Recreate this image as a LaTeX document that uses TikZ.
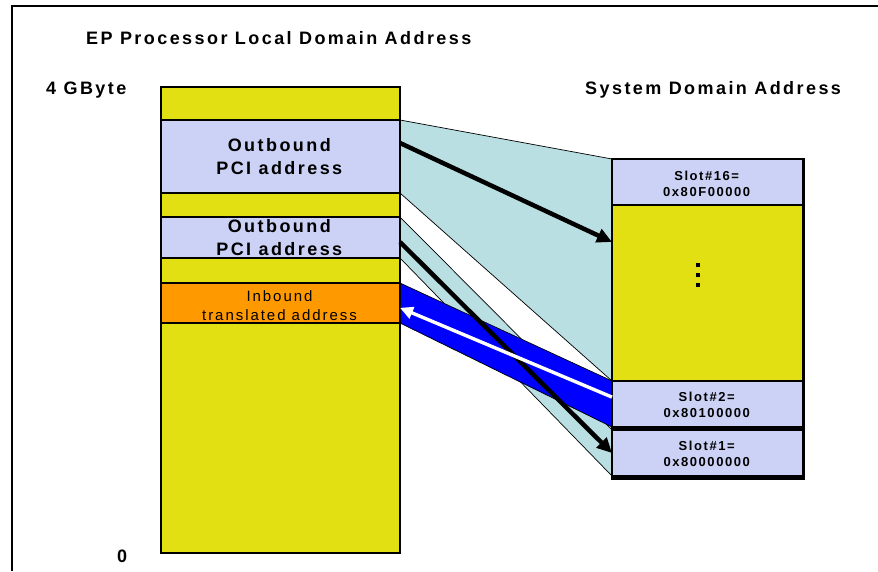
\documentclass[tikz,border=0pt]{standalone}
\usepackage{fontspec}
\setmainfont{Liberation Sans}
\newfontfamily\lspbig[LetterSpace=13.5]{Liberation Sans}
\newfontfamily\lspin[LetterSpace=13]{Liberation Sans}
\newfontfamily\lspsm[LetterSpace=12]{Liberation Sans}
\usetikzlibrary{arrows.meta,calc}
\definecolor{yel}{RGB}{226,224,18}
\definecolor{lav}{RGB}{204,210,246}
\definecolor{org}{RGB}{255,153,0}
\definecolor{cya}{RGB}{185,223,226}
\definecolor{blu}{RGB}{0,0,255}
\begin{document}
\begin{tikzpicture}[x=1pt,y=-1pt,
  lsect/.style={draw=black, line width=2.6pt, inner sep=0pt, outer sep=0pt, anchor=north west, minimum width=239pt},
  rsect/.style={draw=black, line width=2.6pt, inner sep=0pt, outer sep=0pt, anchor=north west, minimum width=191pt},
  bigtxt/.style={font=\lspbig\bfseries\fontsize{18}{23}\selectfont, align=center, inner sep=0pt},
  intxt/.style={font=\lspin\fontsize{15}{19}\selectfont, align=center, inner sep=0pt},
  slottxt/.style={font=\lspsm\bfseries\fontsize{13}{16}\selectfont, align=center, inner sep=0pt},
  edge/.style={draw=black, line width=0.7pt},
  blkarrow/.style={draw=black, line width=4.5pt, -{Triangle[length=15pt,width=14pt]}},
  wharrow/.style={draw=white, line width=3.4pt, -{Triangle[length=13pt,width=12pt]}}
]
\useasboundingbox (0,0) rectangle (878,571);
\fill[white] (0,0) rectangle (878,571);
\draw[line width=2.3pt] (12,571) -- (12,6) -- (878,6);

% left column
\node[lsect, fill=yel, minimum height=33pt] (t1) at (161,87) {};
\node[lsect, fill=lav, minimum height=73pt] (o1) at (161,120) {};
\node[lsect, fill=yel, minimum height=24pt] (y2) at (161,193) {};
\node[lsect, fill=lav, minimum height=41pt] (o2) at (161,217) {};
\node[lsect, fill=yel, minimum height=25pt] (y3) at (161,258) {};
\node[lsect, fill=org, minimum height=40pt] (in) at (161,283) {};
\node[lsect, fill=yel, minimum height=230pt] (y4) at (161,323) {};

% right column
\fill[black] (610.5,157.5) rectangle (804.5,480);
\node[rsect, fill=lav, minimum height=46pt] (s16) at (612,159) {};
\node[rsect, fill=yel, minimum height=176pt] (ry) at (612,205) {};
\node[rsect, fill=lav, minimum height=46pt] (s2) at (612,381) {};
\node[rsect, fill=lav, minimum height=46pt] (s1) at (612,430) {};

% funnels
\fill[cya] (o1.north east) -- (s16.north west) -- (ry.south west) -- (o1.south east) -- cycle;
\draw[edge] (o1.north east) -- (s16.north west);
\draw[edge] (o1.south east) -- (ry.south west);
\fill[cya] (o2.north east) -- (s1.north west) -- (s1.south west) -- (o2.south east) -- cycle;
\draw[edge] (o2.north east) -- (s1.north west);
\draw[edge] (o2.south east) -- (s1.south west);
\fill[blu] (in.north east) -- (s2.north west) -- (s2.south west) -- (in.south east) -- cycle;
\draw[edge] (in.north east) -- (s2.north west);
\draw[edge] (in.south east) -- (s2.south west);

% redraw column borders over funnel edges
\draw[line width=2.6pt] (t1.north east) -- (y4.south east);
\draw[line width=2.6pt] (s16.north west) -- (s1.south west);

% arrows
\draw[blkarrow] ($(o1.north east)!0.315!(o1.south east)$) -- ($(ry.north west)!0.21!(ry.south west)$);
\draw[blkarrow] ($(o2.north east)!0.61!(o2.south east)$) -- (s1.west);
\draw[wharrow] ($(s2.north west)!0.35!(s2.south west)$) -- ($(in.north east)!0.62!(in.south east)$);

% texts
\node[bigtxt] (o1t) at ($(o1.center)+(-1.2,0)$) {Outbound\\PCI address};
\node[bigtxt] (o2t) at ($(o2.center)+(-1.2,0.5)$) {Outbound\\PCI address};
\node[intxt] (int) at ($(in.center)+(-1,2.5)$) {Inbound\\translated address};
\node[slottxt] (s16t) at ($(s16.center)+(-0.8,1.5)$) {Slot\#16=\\0x80F00000};
\node[slottxt] (s2t) at ($(s2.center)+(-0.8,1)$) {Slot\#2=\\0x80100000};
\node[slottxt] (s1t) at ($(s1.center)+(-0.8,0.5)$) {Slot\#1=\\0x80000000};
\fill[black] (696,263) rectangle (700,267);
\fill[black] (696,273) rectangle (700,277);
\fill[black] (696,283) rectangle (700,287);

\node[bigtxt, anchor=base west] (title) at (86,44) {EP Processor Local Domain Address};
\node[bigtxt, anchor=base west] (gb4) at (46,94) {4 GByte};
\node[bigtxt, anchor=base west] (sys) at (585,94) {System Domain Address};
\node[bigtxt, anchor=base west] (zero) at (117,562) {0};
\end{tikzpicture}
\end{document}
